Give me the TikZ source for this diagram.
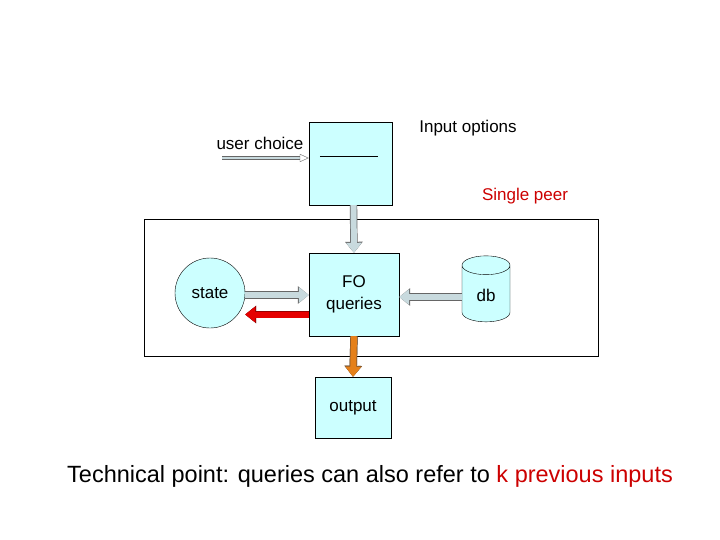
\documentclass[tikz,border=0pt]{standalone}
\usepackage{fontspec}
\setmainfont{Liberation Sans}
\usetikzlibrary{arrows.meta,shapes.geometric}
\definecolor{boxfill}{RGB}{204,255,255}
\definecolor{arrowfill}{RGB}{200,218,222}
\definecolor{peerred}{RGB}{204,0,0}
\tikzset{
  box/.style={draw, fill=boxfill, minimum width=#1, inner sep=0pt},
  fat/.style={line width=6pt, draw=arrowfill, -{Triangle[length=10pt,width=15pt]},
    preaction={draw=gray!80!black, line width=7.4pt, -{Triangle[length=11pt,width=17pt]}}},
  lbl/.style={font=\fontsize{17}{22}\selectfont, align=center}
}
\begin{document}
\begin{tikzpicture}[x=1pt, y=-1pt]
  \useasboundingbox (0,0) rectangle (720,540);
  \draw (144,219) rectangle (598,356);
  \node[box=83pt, minimum height=83pt] (inp) at (350.5,163.5) {};
  \draw ([xshift=11pt,yshift=-34pt]inp.north west) coordinate (l1) -- ++(58,0);
  \node[box=90pt, minimum height=83pt, lbl] (fo) at (354,294.5) {FO\\queries};
  \node[box=76pt, minimum height=61pt, lbl] (out) at (353,407.5) {output};
  \node[draw, circle, fill=boxfill, minimum size=70pt, lbl] (st) at (210,293) {state};
  \node[draw, cylinder, shape border rotate=90, aspect=0.9, fill=boxfill,
    minimum width=48pt, minimum height=66pt, inner sep=1pt, lbl] (db) at (486,295) {db};
  \node[lbl, anchor=east] (uc) at (307,143) {user choice};
  \node[lbl] (io) at (468,128) {Input options};
  \node[lbl, text=peerred] (sp) at (525,196) {Single peer};
  \node[font=\fontsize{23.5}{28}\selectfont] (tp) at (370,476)
    {Technical point: queries can also refer to \textcolor{peerred}{k previous inputs}};
  \coordinate (ucs) at (222,158);
  % connectors
  \draw[double=arrowfill, double distance=2.5pt, gray!80!black, -{Triangle[length=9pt,width=8pt,open]}] (ucs) -- (ucs -| inp.west);
  \draw[fat] ([xshift=3pt]inp.south) -- ([xshift=0pt]fo.north);
  \draw[fat] ([yshift=-2pt]st.east) -- ([yshift=-2pt]st.east -| fo.west);
  \draw[fat] ([yshift=-2pt]db.west) -- ([yshift=-2pt]db.west -| fo.east);
  \draw[fat, draw=red!90!black, preaction={draw=red!60!black, line width=7.4pt, -{Triangle[length=11pt,width=17pt]}}]
    ([yshift=-20pt]fo.west) -- ([yshift=-20pt]fo.west -| st.east);
  \draw[fat, draw=orange!60!brown, preaction={draw=brown!70!black, line width=7.4pt, -{Triangle[length=11pt,width=17pt]}}]
    (fo.south) -- (out.north);
\end{tikzpicture}
\end{document}
